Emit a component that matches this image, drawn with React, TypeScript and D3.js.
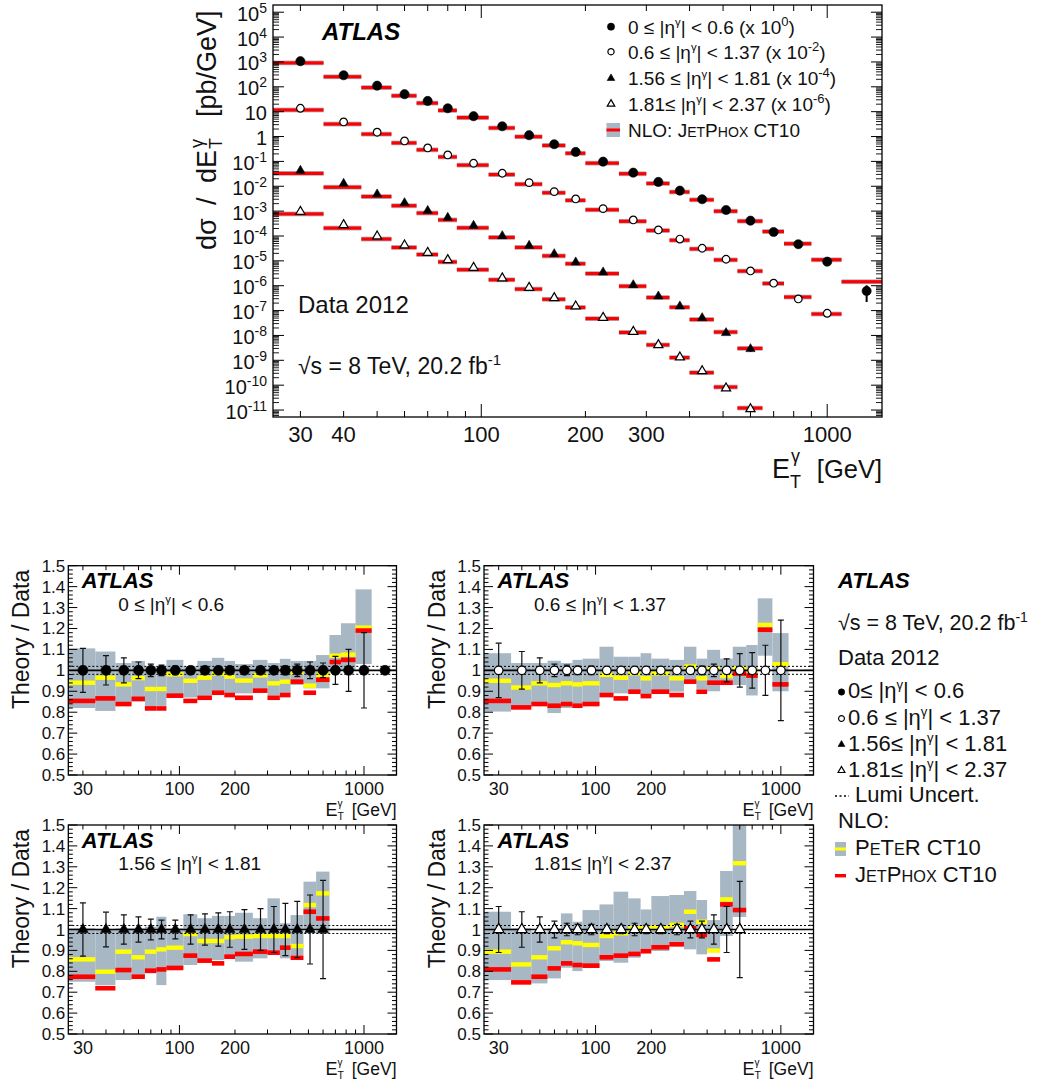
import React from "react";
import * as d3 from "d3";

const FONT = "'Liberation Sans', Arial, Helvetica, sans-serif";

// Photon transverse-energy bin edges [GeV]
const binEdges = [25, 35, 45, 55, 65, 75, 85, 105, 125, 150, 175, 200, 250, 300, 350, 400, 470, 550, 650, 750, 900, 1100, 1500];

// Measured dσ/dE_T^γ [pb/GeV] in each |η^γ| region (before display scaling)
const xsEtaA = [1070, 292, 111, 50.4, 27.0, 13.7, 6.56, 2.59, 1.13, 0.49, 0.24, 0.0977, 0.0353, 0.0149, 6.67e-3, 3.01e-3, 1.11e-3, 4.14e-4, 1.45e-4, 4.66e-5, 9.29e-6, 6.15e-7];
const xsEtaB = [1370, 386, 149, 66.5, 34.8, 18.2, 8.43, 3.34, 1.4, 0.608, 0.309, 0.126, 0.0442, 0.0175, 7.53e-3, 3.21e-3, 1.16e-3, 3.93e-4, 1.26e-4, 2.93e-5, 7.8e-6];
const xsEtaC = [425, 127, 47.8, 21.3, 10.4, 5.47, 2.61, 1.0, 0.408, 0.189, 0.0879, 0.0348, 0.0107, 3.77e-3, 1.49e-3, 5.05e-4, 1.26e-4, 2.86e-5];
const xsEtaD = [953, 278, 97.5, 42.4, 21.4, 10.9, 5.32, 2.0, 0.836, 0.322, 0.149, 0.0519, 0.0142, 4.14e-3, 1.32e-3, 3.72e-4, 7.5e-5, 1.1e-5];

// Display scale factors, 10^k
const scaleExp = [0, -2, -4, -6];

// Theory / Data: JetPhox CT10 central values
const jetphoxA = [0.854, 0.866, 0.839, 0.864, 0.818, 0.818, 0.879, 0.854, 0.869, 0.893, 0.882, 0.869, 0.903, 0.869, 0.882, 0.946, 0.893, 0.955, 1.04, 1.05, 1.19, 2.35];
const jetphoxB = [0.854, 0.823, 0.839, 0.831, 0.839, 0.831, 0.839, 0.882, 0.866, 0.898, 0.877, 0.898, 0.882, 0.946, 0.898, 0.941, 0.941, 0.985, 0.975, 1.194, 0.933];
const jetphoxC = [0.774, 0.719, 0.806, 0.774, 0.803, 0.809, 0.816, 0.875, 0.851, 0.838, 0.87, 0.883, 0.894, 0.889, 0.913, 0.865, 1.085, 1.053];
const jetphoxD = [0.809, 0.747, 0.774, 0.814, 0.838, 0.83, 0.827, 0.867, 0.875, 0.883, 0.896, 0.915, 0.929, 1.006, 0.974, 0.857, 1.12, 1.093];

// Theory / Data: PeTeR CT10 central values
const peterA = [0.941, 0.965, 0.933, 0.963, 0.911, 0.911, 0.981, 0.95, 0.965, 0.985, 0.97, 0.951, 0.976, 0.938, 0.946, 0.989, 0.927, 0.978, 1.07, 1.075, 1.204, null];
const peterB = [0.95, 0.918, 0.938, 0.93, 0.938, 0.933, 0.938, 0.978, 0.965, 0.986, 0.962, 0.986, 0.962, 1.018, 0.962, 1.006, 0.973, 1.01, 1.0, 1.217, 1.029];
const peterC = [0.857, 0.798, 0.894, 0.867, 0.894, 0.905, 0.913, 0.978, 0.945, 0.945, 0.963, 0.966, 0.969, 0.969, 0.969, 0.921, 1.117, 1.173];
const peterD = [0.894, 0.833, 0.867, 0.91, 0.939, 0.934, 0.926, 0.969, 0.982, 1.006, 1.006, 1.01, 1.022, 1.085, 1.037, 0.899, 1.144, 1.317];

// Theory uncertainty band (lower / upper edge)
const bandLoA = [0.82, 0.806, 0.834, 0.85, 0.82, 0.83, 0.88, 0.87, 0.88, 0.9, 0.89, 0.89, 0.91, 0.88, 0.89, 0.93, 0.914, 0.914, 1.0, 1.0, 1.03, null];
const bandHiA = [1.105, 1.09, 1.035, 1.045, 1.02, 1.015, 1.05, 1.02, 1.045, 1.06, 1.045, 1.03, 1.05, 1.035, 1.055, 1.045, 1.045, 1.073, 1.169, 1.225, 1.387, null];
const bandLoB = [0.803, 0.82, 0.834, 0.796, 0.82, 0.82, 0.834, 0.89, 0.89, 0.898, 0.877, 0.898, 0.898, 0.938, 0.91, 0.9, 0.93, 0.93, 0.88, 1.07, 0.9];
const bandHiB = [1.082, 1.035, 1.035, 1.046, 1.035, 1.05, 1.056, 1.113, 1.065, 1.065, 1.082, 1.056, 1.05, 1.113, 1.056, 1.098, 1.056, 1.113, 1.121, 1.344, 1.178];
const bandLoC = [0.75, 0.734, 0.758, 0.774, 0.79, 0.734, 0.81, 0.83, 0.846, 0.854, 0.862, 0.846, 0.862, 0.878, 0.862, 0.878, 1.0, 0.98];
const bandHiC = [1.006, 1.003, 1.006, 1.006, 1.014, 1.061, 1.006, 1.073, 1.054, 1.065, 1.065, 1.08, 1.054, 1.149, 1.03, 1.069, 1.229, 1.277];
const bandLoD = [0.758, 0.758, 0.742, 0.766, 0.817, 0.801, 0.817, 0.849, 0.841, 0.865, 0.897, 0.897, 0.929, 0.905, 0.881, 0.897, 0.969, 1.06];
const bandHiD = [1.085, 1.006, 0.99, 1.006, 1.077, 1.037, 1.093, 1.12, 1.181, 1.149, 1.096, 1.16, 1.165, 1.184, 1.141, 1.045, 1.28, 1.55];

// Relative total uncertainty of the measurement
const errA = [0.105, 0.07, 0.06, 0.04, 0.03, 0.025, 0.02, 0.015, 0.015, 0.015, 0.015, 0.015, 0.015, 0.015, 0.02, 0.03, 0.04, 0.035, 0.067, 0.1, 0.18, 0];
const errB = [0.13, 0.09, 0.06, 0.03, 0.025, 0.02, 0.02, 0.015, 0.015, 0.015, 0.015, 0.015, 0.015, 0.015, 0.02, 0.03, 0.055, 0.08, 0.085, 0.12, 0.24];
const errC = [0.127, 0.083, 0.07, 0.06, 0.05, 0.045, 0.045, 0.07, 0.075, 0.08, 0.085, 0.095, 0.1, 0.11, 0.125, 0.135, 0.165, 0.235];
const errD = [0.11, 0.085, 0.06, 0.04, 0.03, 0.025, 0.025, 0.02, 0.02, 0.03, 0.02, 0.02, 0.025, 0.04, 0.04, 0.07, 0.11, 0.23];

// Asymmetric uncertainty on the highest-E_T point of the central region
const lastPointErrA = { up: 0.69, down: 0.64 };

const etaLeadPanel = ["0 ≤ |η", "0.6 ≤ |η", "1.56 ≤ |η", "1.81≤ |η"];
const etaLeadLegend = ["0≤ |η", "0.6 ≤ |η", "1.56≤ |η", "1.81≤ |η"];
const etaTail = ["| < 0.6", "| < 1.37", "| < 1.81", "| < 2.37"];
const scaleLabel = ["0", "-2", "-4", "-6"];

const topXLabels = [30, 40, 100, 200, 300, 1000];
const ratioXLabels = [30, 100, 200, 1000];
const xMinor = [30, 40, 50, 60, 70, 80, 90, 200, 300, 400, 500, 600, 700, 800, 900];
const xMajor = [100, 1000];

const GREY = "#a8b7c4";
const RED = "#ff0000";
const YELLOW = "#ffff00";

type Kind = "fc" | "oc" | "ft" | "ot";

const series = [
  { xs: xsEtaA, jet: jetphoxA, peter: peterA, lo: bandLoA, hi: bandHiA, err: errA, kind: "fc" as Kind },
  { xs: xsEtaB, jet: jetphoxB, peter: peterB, lo: bandLoB, hi: bandHiB, err: errB, kind: "oc" as Kind },
  { xs: xsEtaC, jet: jetphoxC, peter: peterC, lo: bandLoC, hi: bandHiC, err: errC, kind: "ft" as Kind },
  { xs: xsEtaD, jet: jetphoxD, peter: peterD, lo: bandLoD, hi: bandHiD, err: errD, kind: "ot" as Kind },
];

function binsFor(n: number) {
  return d3.range(n).map((i) => ({ lo: binEdges[i], hi: binEdges[i + 1], mid: (binEdges[i] + binEdges[i + 1]) / 2 }));
}

function Marker({ kind, x, y, r }: { kind: Kind; x: number; y: number; r: number }) {
  const circle = kind === "fc" || kind === "oc";
  const area = circle ? Math.PI * r * r : (Math.sqrt(3) / 4) * (2.3 * r) * (2.3 * r);
  const d = d3.symbol().type(circle ? d3.symbolCircle : d3.symbolTriangle).size(area)() as string;
  const filled = kind === "fc" || kind === "ft";
  return (
    <path d={d} transform={`translate(${x},${y})`} fill={filled ? "#000" : "#fff"} stroke="#000" strokeWidth={filled ? 0.6 : 1.2} />
  );
}

function smallCaps(word: string, size: number) {
  return word.split("").map((c, i) => {
    const lower = c !== c.toUpperCase();
    return (
      <tspan key={i} fontSize={lower ? size * 0.74 : size}>
        {c.toUpperCase()}
      </tspan>
    );
  });
}

function EtaText({ x, y, size, lead, tail, children }: any) {
  return (
    <text x={x} y={y} fontSize={size} fill="#111">
      {lead}
      <tspan fontSize={size * 0.6} dy={-size * 0.4}>
        γ
      </tspan>
      <tspan dy={size * 0.4}>{tail}</tspan>
      {children}
    </text>
  );
}

function SpectrumPlot() {
  const L = 273, R = 882, T = 5, B = 417;
  const x = d3.scaleLog().domain([25, 1440]).range([L, R]);
  const y = d3.scaleLog().domain([10 ** -11.28, 10 ** 5.29]).range([B, T]);

  const yMajor = d3.range(-11, 6);
  const yMinor: number[] = [];
  for (let k = -12; k <= 5; k++) for (let m = 2; m <= 9; m++) {
    const v = m * 10 ** k;
    if (v > y.domain()[0] && v < y.domain()[1]) yMinor.push(v);
  }

  return (
    <g>
      <defs>
        <clipPath id="clip-top">
          <rect x={L} y={T} width={R - L} height={B - T} />
        </clipPath>
      </defs>
      <g clipPath="url(#clip-top)">
        {series.map((s, si) => {
          const f = 10 ** scaleExp[si];
          return binsFor(s.xs.length).map((b, j) => {
            const tv = s.xs[j] * f * s.jet[j];
            const yc = y(tv);
            let gTop = yc - 2.4, gBot = yc + 2.4;
            if (s.peter[j] != null && s.lo[j] != null) {
              gTop = Math.min(gTop, y((tv * (s.hi[j] as number)) / (s.peter[j] as number)));
              gBot = Math.max(gBot, y((tv * (s.lo[j] as number)) / (s.peter[j] as number)));
            }
            return (
              <g key={`t${si}-${j}`}>
                <rect x={x(b.lo)} y={gTop} width={x(b.hi) - x(b.lo)} height={gBot - gTop} fill={GREY} />
                <rect x={x(b.lo)} y={yc - 1.6} width={x(b.hi) - x(b.lo)} height={3.2} fill={RED} />
              </g>
            );
          });
        })}
        {series.map((s, si) => {
          const f = 10 ** scaleExp[si];
          return binsFor(s.xs.length).map((b, j) => {
            const v = s.xs[j] * f;
            const last = si === 0 && j === s.xs.length - 1;
            const up = last ? lastPointErrA.up : s.err[j];
            const dn = last ? lastPointErrA.down : s.err[j];
            return (
              <g key={`d${si}-${j}`}>
                <line x1={x(b.mid)} x2={x(b.mid)} y1={y(v * (1 + up))} y2={y(v * (1 - dn))} stroke="#000" strokeWidth={2} />
                <Marker kind={s.kind} x={x(b.mid)} y={y(v)} r={s.kind === "fc" ? 4.6 : s.kind === "oc" ? 3.8 : 4} />
              </g>
            );
          });
        })}
      </g>

      {/* frame and ticks */}
      <rect x={L} y={T} width={R - L} height={B - T} fill="none" stroke="#000" strokeWidth={1.3} />
      {yMajor.map((k) => (
        <g key={`ym${k}`}>
          <line x1={L} x2={L + 11} y1={y(10 ** k)} y2={y(10 ** k)} stroke="#000" strokeWidth={1} />
          <line x1={R} x2={R - 11} y1={y(10 ** k)} y2={y(10 ** k)} stroke="#000" strokeWidth={1} />
          <text x={L - 6} y={y(10 ** k) + 8.5} fontSize={20} textAnchor="end" fill="#111">
            {k === 0 ? "1" : "10"}
            {k !== 0 && k !== 1 ? (
              <tspan fontSize={14} dy={-8}>
                {k}
              </tspan>
            ) : null}
          </text>
        </g>
      ))}
      {yMinor.map((v, i) => (
        <g key={`yn${i}`}>
          <line x1={L} x2={L + 6} y1={y(v)} y2={y(v)} stroke="#000" strokeWidth={0.9} />
          <line x1={R} x2={R - 6} y1={y(v)} y2={y(v)} stroke="#000" strokeWidth={0.9} />
        </g>
      ))}
      {xMajor.map((v) => (
        <g key={`xm${v}`}>
          <line x1={x(v)} x2={x(v)} y1={B} y2={B - 13} stroke="#000" strokeWidth={1} />
          <line x1={x(v)} x2={x(v)} y1={T} y2={T + 13} stroke="#000" strokeWidth={1} />
        </g>
      ))}
      {xMinor.map((v) => (
        <g key={`xn${v}`}>
          <line x1={x(v)} x2={x(v)} y1={B} y2={B - 6} stroke="#000" strokeWidth={1} />
          <line x1={x(v)} x2={x(v)} y1={T} y2={T + 6} stroke="#000" strokeWidth={1} />
        </g>
      ))}
      {topXLabels.map((v) => (
        <text key={`xl${v}`} x={x(v)} y={441.5} fontSize={22} textAnchor="middle" fill="#111">
          {v}
        </text>
      ))}

      {/* axis titles */}
      <g fill="#111">
        <text x={772} y={478} fontSize={27}>E</text>
        <text x={790} y={487.5} fontSize={18}>T</text>
        <text x={791} y={462} fontSize={18}>γ</text>
        <text x={882} y={478} fontSize={25.5} textAnchor="end">[GeV]</text>
      </g>
      <g transform="translate(215.5,250) rotate(-90)" fill="#111">
        <text x={0} y={0} fontSize={27}>dσ</text>
        <text x={45} y={0} fontSize={27}>/</text>
        <text x={67} y={0} fontSize={27}>dE</text>
        <text x={101} y={6} fontSize={18}>T</text>
        <text x={102} y={-13} fontSize={18}>γ</text>
        <text x={133} y={0} fontSize={27}>[pb/GeV]</text>
      </g>

      {/* annotations */}
      <text x={322} y={40} fontSize={24} fontWeight="bold" fontStyle="italic" fill="#000">ATLAS</text>
      <text x={298} y={312.5} fontSize={24} fill="#111">Data 2012</text>
      <text x={298} y={374} fontSize={23} fill="#111">
        √s = 8 TeV, 20.2 fb
        <tspan fontSize={15} dy={-9}>-1</tspan>
      </text>

      {/* legend */}
      {series.map((s, i) => {
        const yc = [26.7, 51.7, 78.3, 104][i];
        return (
          <g key={`lg${i}`}>
            <Marker kind={s.kind} x={611} y={yc} r={s.kind === "fc" ? 3.6 : s.kind === "oc" ? 3.1 : 3.3} />
            <EtaText x={628} y={yc + 6.8} size={19} lead={etaLeadPanel[i]} tail={`${etaTail[i]} (x 10`}>
              <tspan fontSize={13} dy={-8}>{scaleLabel[i]}</tspan>
              <tspan dy={8}>)</tspan>
            </EtaText>
          </g>
        );
      })}
      <rect x={606.5} y={123} width={13.5} height={14} fill={GREY} />
      <rect x={606.5} y={128.5} width={13.5} height={3} fill={RED} />
      <text x={628} y={137} fontSize={19} fill="#111">
        NLO: {smallCaps("JetPhox", 19)} CT10
      </text>
    </g>
  );
}

type Frame = { L: number; R: number; T: number; B: number };

function RatioPanel({ id, frame, si }: { id: string; frame: Frame; si: number }) {
  const { L, R, T, B } = frame;
  const s = series[si];
  const x = d3.scaleLog().domain([25, 1500]).range([L, R]);
  const y = d3.scaleLinear().domain([0.5, 1.5]).range([B, T]);
  const bins = binsFor(s.jet.length);
  const yTicks = d3.range(0, 51).map((i) => ({ v: 0.5 + i * 0.02, major: i % 5 === 0 }));
  const lumi = 0.019;
  const markerR = s.kind === "fc" ? 5 : s.kind === "oc" ? 4.3 : 4.6;

  return (
    <g>
      <defs>
        <clipPath id={id}>
          <rect x={L} y={T} width={R - L} height={B - T} />
        </clipPath>
      </defs>
      <g clipPath={`url(#${id})`}>
        {bins.map((b, j) =>
          s.lo[j] != null ? (
            <rect key={`b${j}`} x={x(b.lo)} y={y(s.hi[j] as number)} width={x(b.hi) - x(b.lo)} height={y(s.lo[j] as number) - y(s.hi[j] as number)} fill={GREY} />
          ) : null
        )}
        {bins.map((b, j) =>
          s.peter[j] != null ? (
            <rect key={`p${j}`} x={x(b.lo)} y={y(s.peter[j] as number) - 2.2} width={x(b.hi) - x(b.lo)} height={4.4} fill={YELLOW} />
          ) : null
        )}
        {bins.map((b, j) => (
          <rect key={`j${j}`} x={x(b.lo)} y={y(s.jet[j]) - 2.3} width={x(b.hi) - x(b.lo)} height={4.6} fill={RED} />
        ))}
        <line x1={L} x2={R} y1={y(1)} y2={y(1)} stroke="#000" strokeWidth={1.6} />
        <line x1={L} x2={R} y1={y(1 + lumi)} y2={y(1 + lumi)} stroke="#000" strokeWidth={1} strokeDasharray="2,2" />
        <line x1={L} x2={R} y1={y(1 - lumi)} y2={y(1 - lumi)} stroke="#000" strokeWidth={1} strokeDasharray="2,2" />
        {bins.map((b, j) =>
          s.err[j] > 0 ? (
            <g key={`e${j}`} stroke="#111" strokeWidth={1.2}>
              <line x1={x(b.mid)} x2={x(b.mid)} y1={y(1 + s.err[j])} y2={y(1 - s.err[j])} />
              <line x1={x(b.mid) - 3} x2={x(b.mid) + 3} y1={y(1 + s.err[j])} y2={y(1 + s.err[j])} />
              <line x1={x(b.mid) - 3} x2={x(b.mid) + 3} y1={y(1 - s.err[j])} y2={y(1 - s.err[j])} />
            </g>
          ) : null
        )}
        {bins.map((b, j) => (
          <Marker key={`m${j}`} kind={s.kind} x={x(b.mid)} y={y(1)} r={markerR} />
        ))}
      </g>

      <rect x={L} y={T} width={R - L} height={B - T} fill="none" stroke="#000" strokeWidth={1.3} />
      {yTicks.map((t, i) => (
        <g key={`yt${i}`}>
          <line x1={L} x2={L + (t.major ? 9 : 4.5)} y1={y(t.v)} y2={y(t.v)} stroke="#000" strokeWidth={1} />
          <line x1={R} x2={R - (t.major ? 9 : 4.5)} y1={y(t.v)} y2={y(t.v)} stroke="#000" strokeWidth={1} />
          {t.major ? (
            <text x={L - 3} y={y(t.v) + 6} fontSize={17} textAnchor="end" fill="#111">
              {Math.abs(t.v - 1) < 1e-9 ? "1" : t.v.toFixed(1)}
            </text>
          ) : null}
        </g>
      ))}
      {xMajor.map((v) => (
        <g key={`xm${v}`}>
          <line x1={x(v)} x2={x(v)} y1={B} y2={B - 9} stroke="#000" strokeWidth={1} />
          <line x1={x(v)} x2={x(v)} y1={T} y2={T + 9} stroke="#000" strokeWidth={1} />
        </g>
      ))}
      {xMinor.map((v) => (
        <g key={`xn${v}`}>
          <line x1={x(v)} x2={x(v)} y1={B} y2={B - 4.5} stroke="#000" strokeWidth={1} />
          <line x1={x(v)} x2={x(v)} y1={T} y2={T + 4.5} stroke="#000" strokeWidth={1} />
        </g>
      ))}
      {ratioXLabels.map((v) => (
        <text key={`xl${v}`} x={x(v)} y={B + 19.5} fontSize={18} textAnchor="middle" fill="#111">
          {v}
        </text>
      ))}
      <g fill="#111">
        <text x={R - 71} y={B + 40.5} fontSize={18}>E</text>
        <text x={R - 59} y={B + 45} fontSize={10.5}>T</text>
        <text x={R - 59} y={B + 31.5} fontSize={10}>γ</text>
        <text x={R} y={B + 40.5} fontSize={17.5} textAnchor="end">[GeV]</text>
      </g>
      <text transform={`translate(${L - 39.5},${T + 4}) rotate(-90)`} fontSize={23} textAnchor="end" fill="#111">
        Theory / Data
      </text>
      <text x={L + 13.5} y={T + 22.5} fontSize={22} fontWeight="bold" fontStyle="italic" fill="#000">ATLAS</text>
      <EtaText x={L + 50} y={T + 45} size={19} lead={etaLeadPanel[si]} tail={etaTail[si]} />
    </g>
  );
}

function RatioLegend() {
  const rows = [698, 724.5, 750.5, 776.5];
  return (
    <g fill="#111">
      <text x={838} y={587.5} fontSize={22} fontWeight="bold" fontStyle="italic" fill="#000">ATLAS</text>
      <text x={838} y={630} fontSize={21.5}>
        √s = 8 TeV, 20.2 fb
        <tspan fontSize={14} dy={-8}>-1</tspan>
      </text>
      <text x={838} y={665} fontSize={22}>Data 2012</text>
      {series.map((s, i) => (
        <g key={`rl${i}`}>
          <Marker kind={s.kind} x={841.5} y={rows[i] - 6} r={s.kind === "fc" ? 3.2 : s.kind === "oc" ? 2.9 : 3} />
          <EtaText x={848} y={rows[i]} size={22} lead={etaLeadLegend[i]} tail={etaTail[i]} />
        </g>
      ))}
      <line x1={835} x2={849} y1={796} y2={796} stroke="#000" strokeWidth={1.5} strokeDasharray="2,2.5" />
      <text x={855} y={802} fontSize={22}>Lumi Uncert.</text>
      <text x={838} y={828} fontSize={22}>NLO:</text>
      <rect x={835} y={842} width={11} height={14} fill={GREY} />
      <rect x={835} y={847.5} width={11} height={3} fill={YELLOW} />
      <text x={855} y={855} fontSize={22}>
        {smallCaps("PeTeR", 22)} CT10
      </text>
      <rect x={835} y={874} width={11} height={3.4} fill={RED} />
      <text x={855} y={881.7} fontSize={22}>
        {smallCaps("JetPhox", 22)} CT10
      </text>
    </g>
  );
}

const frames: Frame[] = [
  { L: 68.3, R: 396.5, T: 565.7, B: 775 },
  { L: 484, R: 813.5, T: 565.7, B: 775 },
  { L: 68.3, R: 396.5, T: 825, B: 1034 },
  { L: 484, R: 813.5, T: 825, B: 1034 },
];

export default function App() {
  return (
    <svg
      width={1050}
      height={1082}
      viewBox="0 0 1050 1082"
      style={{ position: "absolute", left: 0, top: 0, background: "#fff" }}
      fontFamily={FONT}
    >
      <rect x={0} y={0} width={1050} height={1082} fill="#fff" />
      <SpectrumPlot />
      {frames.map((f, i) => (
        <RatioPanel key={i} id={`clip-ratio-${i}`} frame={f} si={i} />
      ))}
      <RatioLegend />
    </svg>
  );
}
